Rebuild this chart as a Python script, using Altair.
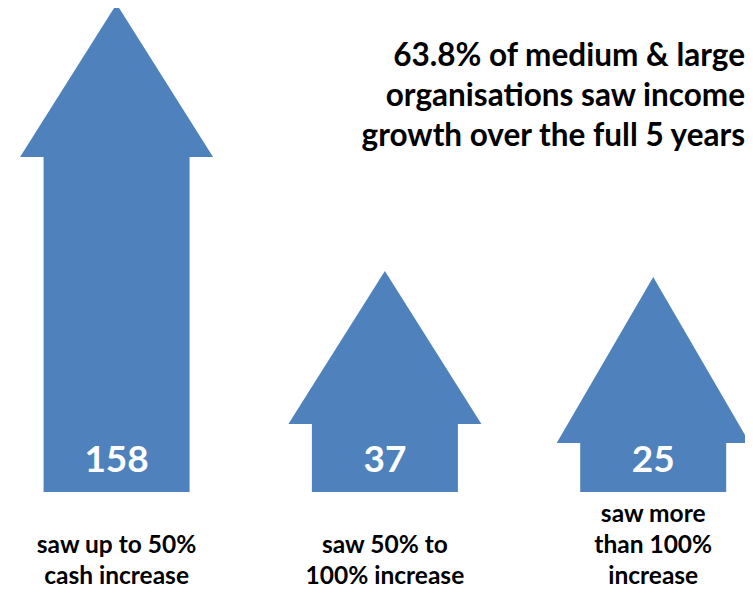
import altair as alt
import pandas as pd

# Values shown on the arrows
categories = ["up to 50%", "50% to 100%", "more than 100%"]
counts = [158, 37, 25]
labels = [
    ["saw up to 50%", "cash increase"],
    ["saw 50% to", "100% increase"],
    ["saw more", "than 100%", "increase"],
]
# Drawn arrow geometry (pixel-like units above the baseline)
shaft_tops = [335, 68, 49]
head_heights = [153, 153, 166]
title_lines = [
    "63.8% of medium & large",
    "organisations saw income",
    "growth over the full 5 years",
]

BLUE = "#4F81BD"
HEAD_W = 193
FONT = "Lato"
LABEL_LH = 31

df = pd.DataFrame({
    "idx": list(range(len(categories))),
    "category": categories,
    "count": counts,
    "label": labels,
    "nlines": [len(l) for l in labels],
    "shaft_top": shaft_tops,
    "head_height": head_heights,
})

x = alt.X("idx:Q", scale=alt.Scale(domain=[-0.386, 2.3235]), axis=None)
yscale = alt.Scale(domain=[-97, 484])

base = alt.Chart(df)

shaft = base.mark_bar(size=146, color=BLUE).encode(
    x=x,
    y=alt.Y("shaft_top:Q", scale=yscale, axis=None),
    y2=alt.datum(0),
)

head = base.transform_calculate(
    path="'M-1,0L1,0L0,-' + (2*datum.head_height/" + str(HEAD_W) + ") + 'Z'"
).mark_point(filled=True, opacity=1, color=BLUE, strokeWidth=0, size=HEAD_W * HEAD_W).encode(
    x=x,
    y=alt.Y("shaft_top:Q", scale=yscale, axis=None),
    shape=alt.Shape("path:N", scale=None, legend=None),
)

numbers = base.mark_text(
    font=FONT, fontWeight="bold", fontSize=37, color="white",
    align="center", baseline="alphabetic",
).encode(x=x, y=alt.value(464), text="count:Q")

cat_labels = base.transform_calculate(
    label_y="-92 + " + str(LABEL_LH) + "*(datum.nlines - 1)"
).mark_text(
    font=FONT, fontWeight="bold", fontSize=24.5, color="black",
    align="center", baseline="alphabetic", lineHeight=LABEL_LH,
).encode(x=x, y=alt.Y("label_y:Q", scale=yscale, axis=None), text="label")

title = alt.Chart(pd.DataFrame({"t": [title_lines]})).mark_text(
    font=FONT, fontWeight="bold", fontSize=31.5, color="black",
    align="right", baseline="alphabetic", lineHeight=40,
).encode(x=alt.value(737), y=alt.value(58), text="t")

chart = alt.layer(shaft, head, numbers, cat_labels, title).properties(
    width=737, height=581, autosize="none", padding=0,
).configure_view(stroke=None)

chart.save("out.html", embed_options={"renderer": "svg", "actions": False})
